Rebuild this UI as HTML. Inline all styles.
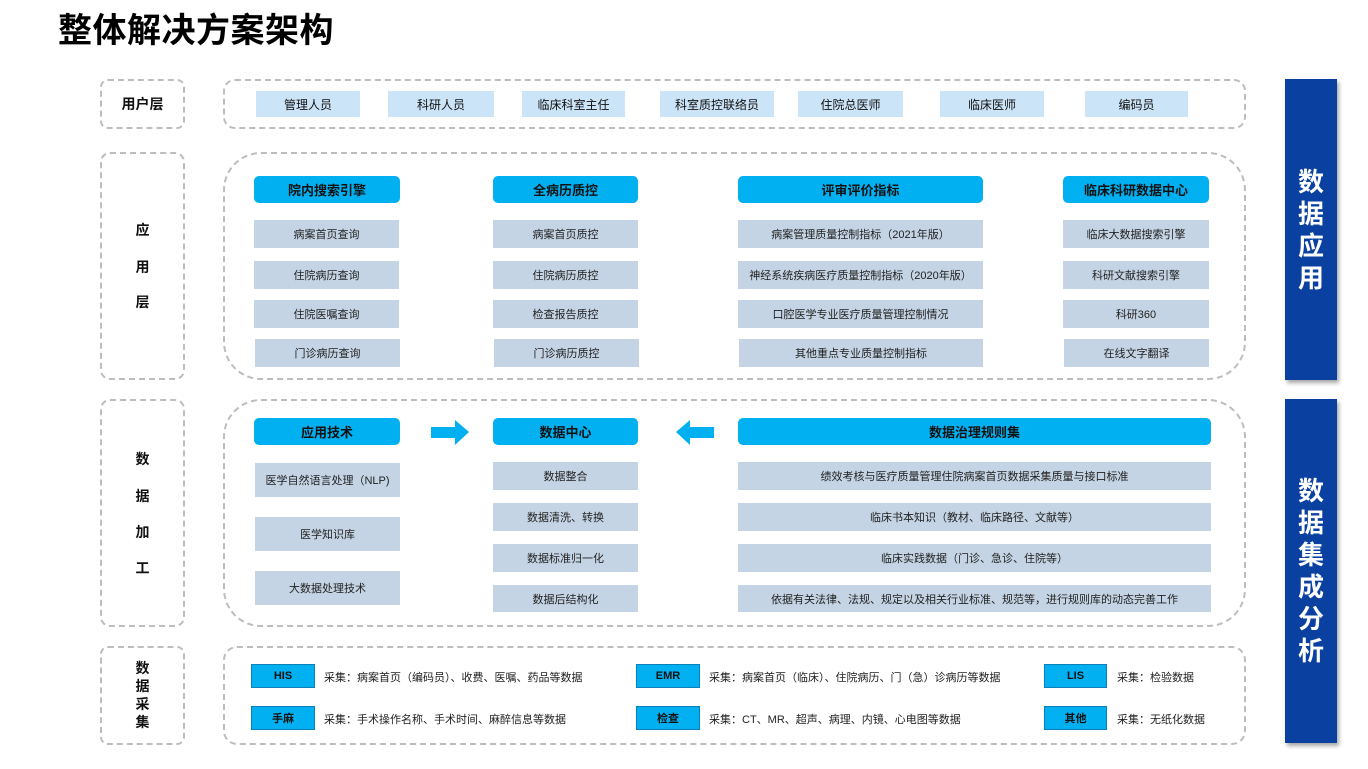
<!DOCTYPE html>
<html><head><meta charset="utf-8"><style>
*{margin:0;padding:0;box-sizing:border-box}
body{width:1368px;height:769px;background:#fff;position:relative;overflow:hidden;font-family:"Liberation Sans","Noto Sans CJK SC",sans-serif;color:#111}
.a{position:absolute;display:flex;align-items:center;justify-content:center;text-align:center}
.d{position:absolute;border:2px dashed #bdbdbd}
.u{background:#cce4f8;font-size:12px}
.h{background:#00b0f0;font-size:13px;font-weight:bold;border-radius:5px}
.g{background:#c4d4e4;font-size:11px;color:#222}
.c{background:#00b0f0;font-size:11px;font-weight:bold;border:1px solid #0a7fb8}
.t{position:absolute;font-size:11px;color:#222;white-space:nowrap}
.l{position:absolute;left:100px;width:85px;text-align:center;font-size:14px;font-weight:bold}
.p{position:absolute;left:1285px;width:52px;background:#0a40a0;color:#fff;font-size:26px;font-weight:bold;display:flex;align-items:center;justify-content:center;line-height:32px;text-align:center;box-shadow:2px 3px 4px rgba(0,0,0,.35)}
</style></head><body>
<div style="position:absolute;left:58px;top:3px;font-size:34px;font-weight:bold;color:#000;letter-spacing:0.5px">整体解决方案架构</div>

<div class="d" style="left:100px;top:79px;width:85px;height:50px;border-radius:8px"></div>
<div class="d" style="left:100px;top:152px;width:85px;height:228px;border-radius:10px"></div>
<div class="d" style="left:100px;top:399px;width:85px;height:228px;border-radius:10px"></div>
<div class="d" style="left:100px;top:646px;width:85px;height:99px;border-radius:8px"></div>
<div class="d" style="left:223px;top:79px;width:1023px;height:50px;border-radius:12px"></div>
<div class="d" style="left:223px;top:152px;width:1023px;height:228px;border-radius:38px"></div>
<div class="d" style="left:223px;top:399px;width:1023px;height:228px;border-radius:38px"></div>
<div class="d" style="left:223px;top:646px;width:1023px;height:99px;border-radius:14px"></div>

<div class="l" style="top:94px">用户层</div>
<div class="l" style="top:220px">应</div><div class="l" style="top:257px">用</div><div class="l" style="top:292px">层</div>
<div class="l" style="top:449px">数</div><div class="l" style="top:486px">据</div><div class="l" style="top:522px">加</div><div class="l" style="top:558px">工</div>
<div class="l" style="top:659px;line-height:18px">数<br>据<br>采<br>集</div>

<div class="a u" style="left:256px;top:91px;width:104px;height:26px">管理人员</div>
<div class="a u" style="left:388px;top:91px;width:106px;height:26px">科研人员</div>
<div class="a u" style="left:522px;top:91px;width:103px;height:26px">临床科室主任</div>
<div class="a u" style="left:660px;top:91px;width:114px;height:26px">科室质控联络员</div>
<div class="a u" style="left:798px;top:91px;width:105px;height:26px">住院总医师</div>
<div class="a u" style="left:940px;top:91px;width:104px;height:26px">临床医师</div>
<div class="a u" style="left:1085px;top:91px;width:103px;height:26px">编码员</div>

<div class="a h" style="left:254px;top:176px;width:146px;height:27px">院内搜索引擎</div>
<div class="a h" style="left:493px;top:176px;width:145px;height:27px">全病历质控</div>
<div class="a h" style="left:738px;top:176px;width:245px;height:27px">评审评价指标</div>
<div class="a h" style="left:1063px;top:176px;width:146px;height:27px">临床科研数据中心</div>

<div class="a g" style="left:254px;top:220px;width:145px;height:28px">病案首页查询</div>
<div class="a g" style="left:254px;top:261px;width:145px;height:28px">住院病历查询</div>
<div class="a g" style="left:254px;top:300px;width:145px;height:28px">住院医嘱查询</div>
<div class="a g" style="left:255px;top:339px;width:145px;height:28px">门诊病历查询</div>
<div class="a g" style="left:493px;top:220px;width:145px;height:28px">病案首页质控</div>
<div class="a g" style="left:493px;top:261px;width:145px;height:28px">住院病历质控</div>
<div class="a g" style="left:493px;top:300px;width:145px;height:28px">检查报告质控</div>
<div class="a g" style="left:494px;top:339px;width:145px;height:28px">门诊病历质控</div>
<div class="a g" style="left:738px;top:220px;width:245px;height:28px">病案管理质量控制指标（2021年版）</div>
<div class="a g" style="left:738px;top:261px;width:245px;height:28px">神经系统疾病医疗质量控制指标（2020年版）</div>
<div class="a g" style="left:738px;top:300px;width:245px;height:28px">口腔医学专业医疗质量管理控制情况</div>
<div class="a g" style="left:739px;top:339px;width:244px;height:28px">其他重点专业质量控制指标</div>
<div class="a g" style="left:1063px;top:220px;width:146px;height:28px">临床大数据搜索引擎</div>
<div class="a g" style="left:1063px;top:261px;width:146px;height:28px">科研文献搜索引擎</div>
<div class="a g" style="left:1063px;top:300px;width:146px;height:28px">科研360</div>
<div class="a g" style="left:1064px;top:339px;width:145px;height:28px">在线文字翻译</div>

<div class="a h" style="left:254px;top:418px;width:146px;height:27px">应用技术</div>
<div class="a h" style="left:493px;top:418px;width:145px;height:27px">数据中心</div>
<div class="a h" style="left:738px;top:418px;width:473px;height:27px">数据治理规则集</div>
<svg style="position:absolute;left:430px;top:420px" width="40" height="25"><polygon points="1,7 25,7 25,0 39,12 25,25 25,18 1,18" fill="#00b0f0"/></svg>
<svg style="position:absolute;left:675px;top:420px" width="40" height="25"><polygon points="39,7 15,7 15,0 1,12 15,25 15,18 39,18" fill="#00b0f0"/></svg>

<div class="a g" style="left:255px;top:463px;width:145px;height:34px">医学自然语言处理（NLP)</div>
<div class="a g" style="left:255px;top:517px;width:145px;height:34px">医学知识库</div>
<div class="a g" style="left:255px;top:571px;width:145px;height:34px">大数据处理技术</div>
<div class="a g" style="left:493px;top:462px;width:145px;height:28px">数据整合</div>
<div class="a g" style="left:493px;top:503px;width:145px;height:28px">数据清洗、转换</div>
<div class="a g" style="left:493px;top:544px;width:145px;height:28px">数据标准归一化</div>
<div class="a g" style="left:493px;top:585px;width:145px;height:27px">数据后结构化</div>
<div class="a g" style="left:738px;top:462px;width:473px;height:28px">绩效考核与医疗质量管理住院病案首页数据采集质量与接口标准</div>
<div class="a g" style="left:738px;top:503px;width:473px;height:28px">临床书本知识（教材、临床路径、文献等）</div>
<div class="a g" style="left:738px;top:544px;width:473px;height:28px">临床实践数据（门诊、急诊、住院等）</div>
<div class="a g" style="left:738px;top:585px;width:473px;height:27px">依据有关法律、法规、规定以及相关行业标准、规范等，进行规则库的动态完善工作</div>

<div class="a c" style="left:251px;top:664px;width:64px;height:24px">HIS</div>
<div class="a c" style="left:251px;top:706px;width:64px;height:24px">手麻</div>
<div class="a c" style="left:636px;top:664px;width:64px;height:24px">EMR</div>
<div class="a c" style="left:636px;top:706px;width:64px;height:24px">检查</div>
<div class="a c" style="left:1044px;top:664px;width:63px;height:24px">LIS</div>
<div class="a c" style="left:1044px;top:706px;width:63px;height:24px">其他</div>
<div class="t" style="left:324px;top:669px">采集：病案首页（编码员）、收费、医嘱、药品等数据</div>
<div class="t" style="left:324px;top:711px">采集：手术操作名称、手术时间、麻醉信息等数据</div>
<div class="t" style="left:709px;top:669px">采集：病案首页（临床）、住院病历、门（急）诊病历等数据</div>
<div class="t" style="left:709px;top:711px">采集：CT、MR、超声、病理、内镜、心电图等数据</div>
<div class="t" style="left:1117px;top:669px">采集：检验数据</div>
<div class="t" style="left:1117px;top:711px">采集：无纸化数据</div>

<div class="p" style="top:79px;height:301px">数<br>据<br>应<br>用</div>
<div class="p" style="top:399px;height:344px">数<br>据<br>集<br>成<br>分<br>析</div>
</body></html>
